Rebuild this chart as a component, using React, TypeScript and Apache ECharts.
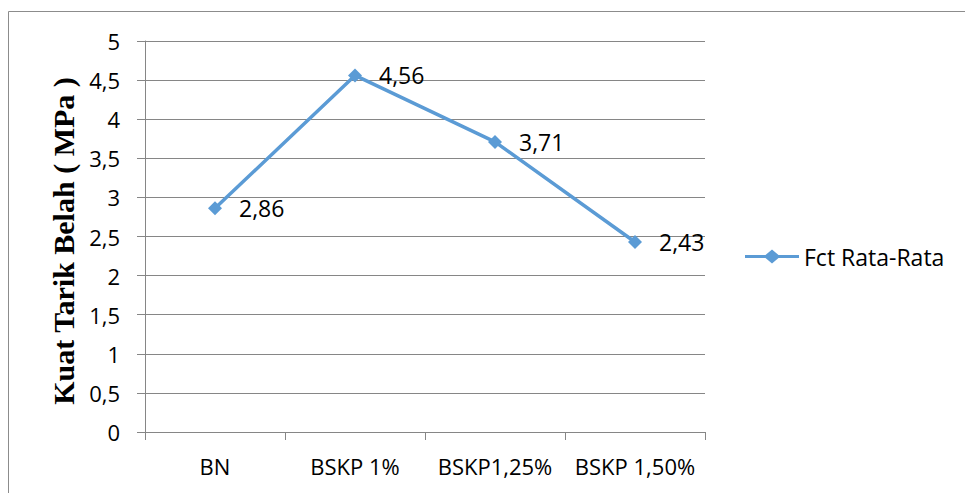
import React, { useEffect, useRef } from "react";
import * as echarts from "echarts";

const categories = ["BN", "BSKP 1%", "BSKP1,25%", "BSKP 1,50%"];
const fctValues = [2.86, 4.56, 3.71, 2.43];
const seriesName = "Fct Rata-Rata";
const yTitle = "Kuat Tarik Belah ( MPa )";

const comma = (v: number | string) => String(v).replace(".", ",");

export default function App() {
  const ref = useRef<HTMLDivElement>(null);
  useEffect(() => {
    if (!ref.current) return;
    const chart = echarts.init(ref.current, null, { renderer: "svg" });
    const gray = "#868686";
    const blue = "#5B9BD5";
    const font = "'Open Sans', sans-serif";
    chart.setOption({
      animation: false,
      backgroundColor: "#ffffff",
      grid: { left: 145, right: 260, top: 41, bottom: 61 },
      xAxis: {
        type: "category",
        data: categories,
        boundaryGap: true,
        axisLine: { lineStyle: { color: gray, width: 1 } },
        axisTick: { show: true, length: 8, lineStyle: { color: gray } },
        axisLabel: {
          color: "#000",
          fontFamily: font,
          fontSize: 22,
          margin: 23,
          interval: 0,
        },
      },
      yAxis: {
        type: "value",
        min: 0,
        max: 5,
        interval: 0.5,
        axisLine: { show: true, lineStyle: { color: gray, width: 1 } },
        axisTick: { show: true, length: 8, lineStyle: { color: gray } },
        splitLine: { show: true, lineStyle: { color: gray, width: 1 } },
        axisLabel: {
          color: "#000",
          fontFamily: font,
          fontSize: 22,
          margin: 25,
          formatter: (v: number) => comma(v),
        },
      },
      legend: {
        show: true,
        orient: "vertical",
        left: 740,
        top: 240,
        itemWidth: 54,
        itemHeight: 14,
        itemGap: 5,
        textStyle: { color: "#000", fontFamily: font, fontSize: 23 },
        data: [
          {
            name: seriesName,
            icon: "path://M0,5.5H20.5L27,0L33.5,5.5H54V8.5H33.5L27,14L20.5,8.5H0Z",
            itemStyle: { color: blue, borderWidth: 0 },
          },
        ],
      },
      graphic: [
        {
          type: "rect",
          shape: { x: 8.5, y: 11.5, width: 1200, height: 1000 },
          style: { fill: "none", stroke: "#8c8c8c", lineWidth: 1 },
          silent: true,
        },
        {
          type: "text",
          x: 63,
          y: 241,
          rotation: Math.PI / 2,
          style: {
            text: yTitle,
            fontFamily: "'Liberation Serif', 'Times New Roman', serif",
            fontWeight: "bold",
            fontSize: 30,
            fill: "#000",
            align: "center",
            verticalAlign: "middle",
          },
        },
      ],
      series: [
        {
          name: seriesName,
          type: "line",
          data: fctValues,
          symbol: "diamond",
          symbolSize: 14,
          lineStyle: { color: blue, width: 3.5 },
          itemStyle: { color: blue },
          label: {
            show: true,
            position: "right",
            distance: 17,
            color: "#000",
            fontFamily: font,
            fontSize: 23,
            formatter: (p: any) => comma(p.value),
          },
        },
      ],
    });
    return () => chart.dispose();
  }, []);
  return (
    <div
      ref={ref}
      style={{ position: "fixed", left: 0, top: 0, width: 965, height: 493 }}
    />
  );
}
